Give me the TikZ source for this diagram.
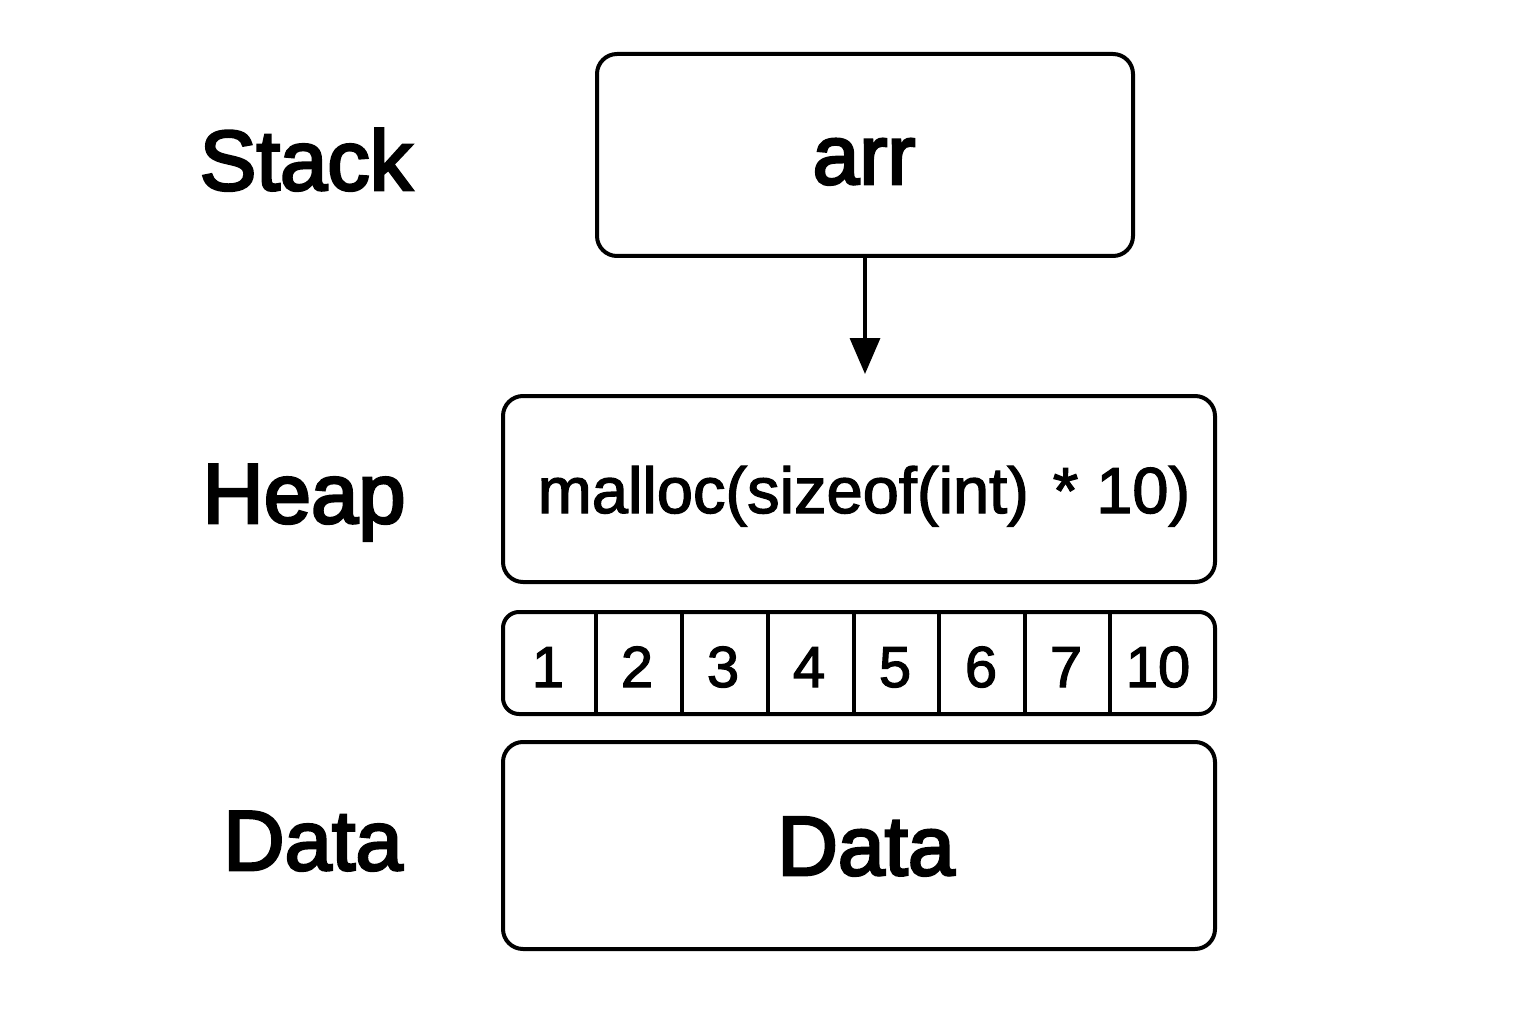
\documentclass[tikz,border=0pt]{standalone}
\usepackage{fontspec}
\setmainfont{Liberation Sans}
\newfontfamily\medfont[FakeBold=3.2]{Liberation Sans}
\newfontfamily\semifont[FakeBold=2]{Liberation Sans}
\usetikzlibrary{arrows.meta}
\tikzset{
  memblock/.style={draw=black, line width=4pt, rounded corners=20pt, inner sep=0pt},
  lbl/.style={font=\medfont\fontsize{85}{85}\selectfont, anchor=base, inner sep=0pt},
  boxtext/.style={font=\medfont\fontsize{84}{84}\selectfont, anchor=base, inner sep=0pt},
  celltext/.style={font=\semifont\fontsize{58}{58}\selectfont, anchor=base, inner sep=0pt},
  divider/.style={line width=3.5pt},
  pointer/.style={line width=3.5pt, -{Triangle[length=36pt,width=30pt]}}
}
\begin{document}
\begin{tikzpicture}[x=1pt,y=-1pt]
\useasboundingbox (0,0) rectangle (1536,1024);
% left labels
\node[lbl] (lstack) at (306,190) {Stack};
\node[lbl] (lheap) at (304,523) {Heap};
\node[lbl] (ldata) at (313,870) {Data};
% stack box
\node[memblock, minimum width=536pt, minimum height=202pt] (arrbox) at (865,155) {};
\node[boxtext] (arrtext) at (864,184) {arr};
% heap box
\node[memblock, minimum width=712pt, minimum height=186pt] (heapbox) at (859,489) {};
\node[font=\semifont\fontsize{65}{65}\selectfont, anchor=base, inner sep=0pt] (malloc) at (864,513) {malloc(sizeof(int)\hspace{6pt} * 10)};
% array
\node[memblock, rounded corners=16pt, minimum width=712pt, minimum height=102pt] (arraybox) at (859,663) {};
\foreach \i/\x in {1/596,2/682,3/768,4/854,5/939,6/1025,7/1110}{
  \coordinate (dt\i) at (\x,612);
  \coordinate (db\i) at (\x,714);
  \draw[divider] (dt\i) -- (db\i);
}
\foreach \n/\x/\t in {1/548/1,2/637/2,3/723/3,4/809/4,5/895/5,6/981/6,7/1066/7,8/1158/10}{
  \node[celltext] (cell\n) at (\x,687) {\t};
}
% data box
\node[memblock, minimum width=712pt, minimum height=207pt] (databox) at (859,845.5) {};
\node[boxtext] (datatext) at (866,875) {Data};
% pointer arrow
\coordinate (arrowend) at (arrbox.south |- 0,374);
\draw[pointer] (arrbox.south) -- (arrowend);
\end{tikzpicture}
\end{document}
